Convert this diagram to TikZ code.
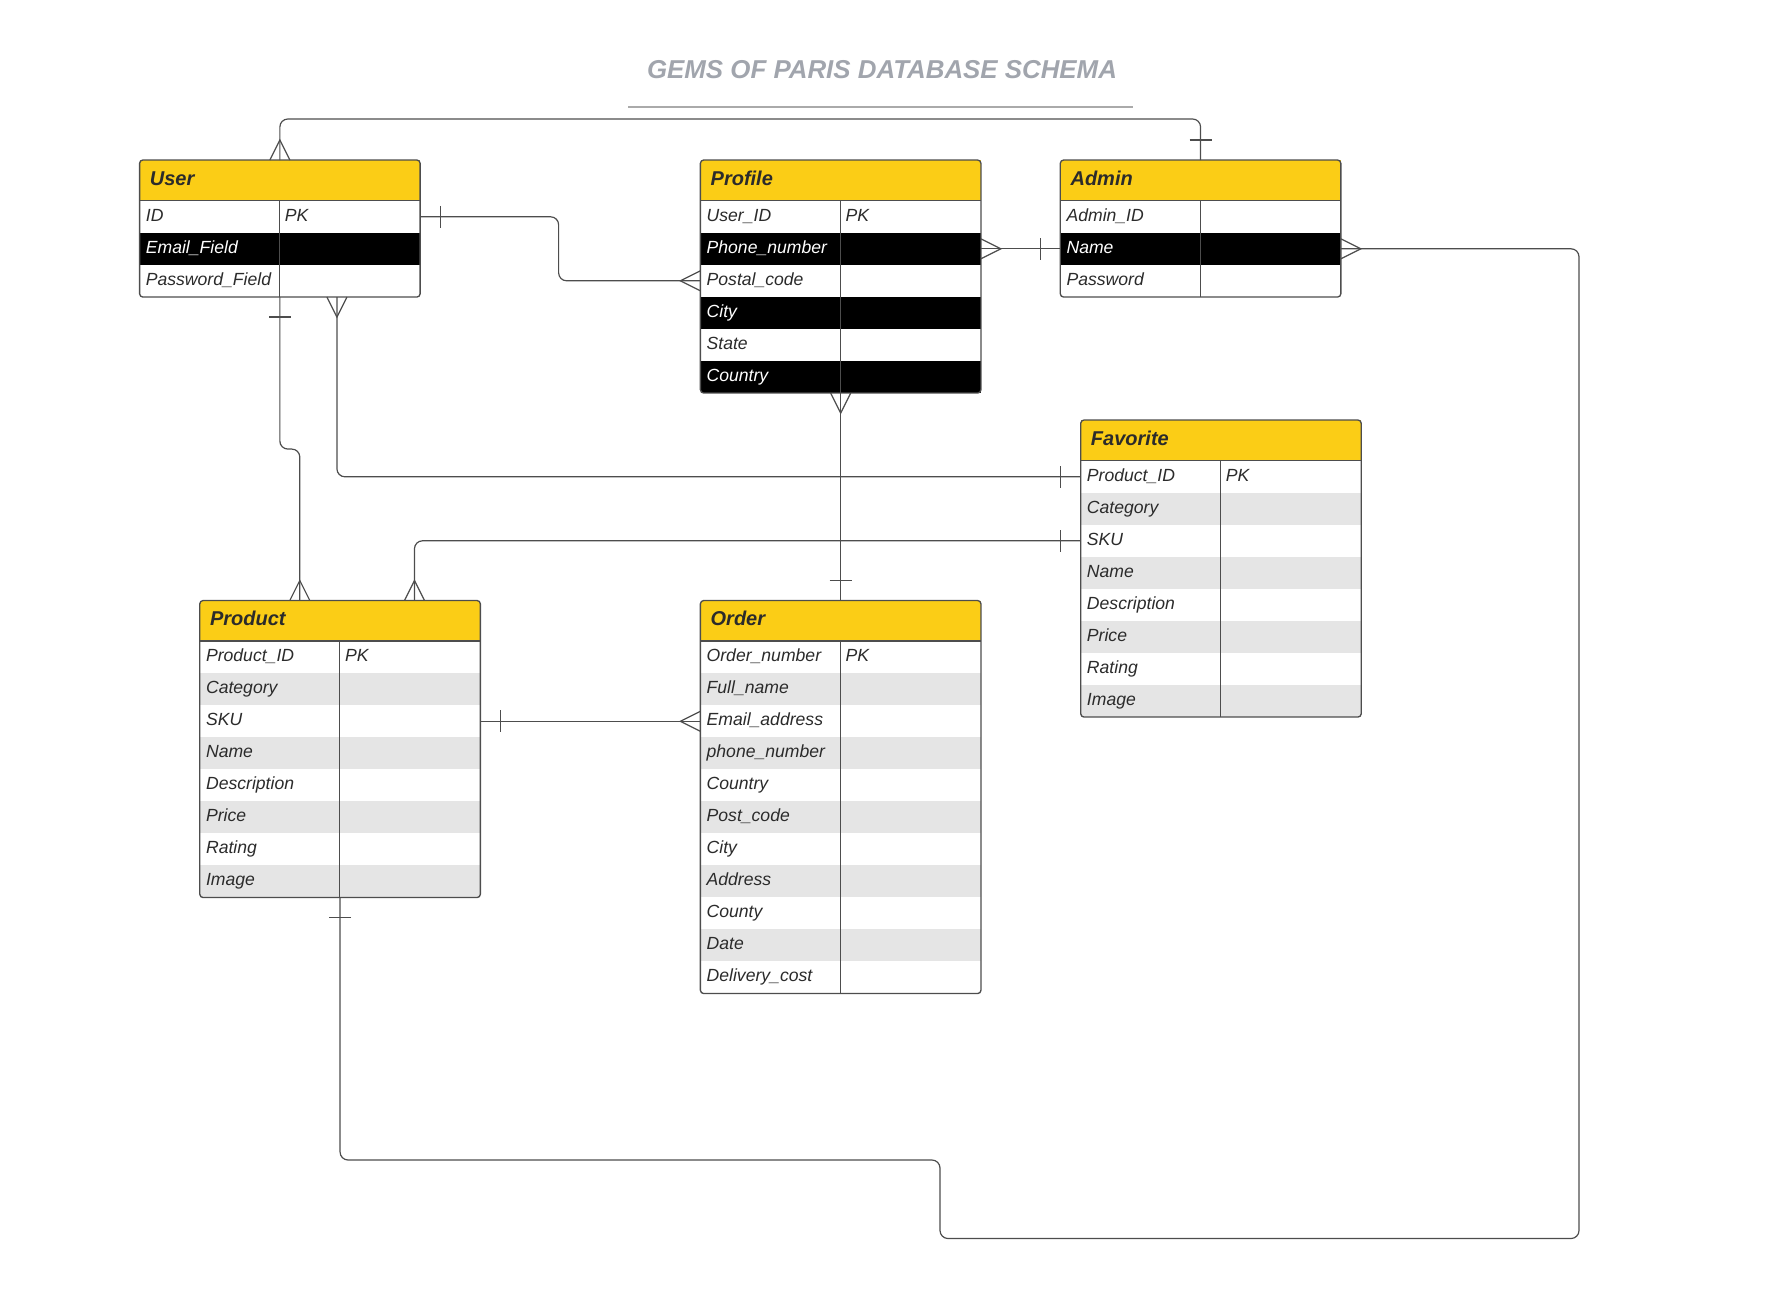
\documentclass[tikz,border=0pt]{standalone}
\usepackage{fontspec}
\setmainfont{Liberation Sans}
\definecolor{gold}{RGB}{251,205,22}
\definecolor{stripe}{RGB}{229,229,229}
\definecolor{ink}{RGB}{43,43,43}
\definecolor{wire}{RGB}{77,77,77}
\definecolor{haze}{RGB}{161,165,173}
\definecolor{rulegrey}{RGB}{170,170,170}
\begin{document}
\begin{tikzpicture}
	[x=0.75pt,y=-0.75pt,
	head/.style={anchor=north west,fill=gold,minimum height=30pt,inner xsep=7.5pt,inner ysep=0pt,text width=195pt,align=left,text height=11pt,text depth=3.5pt,text=ink,font=\fontsize{15}{18}\selectfont\bfseries\itshape},
	row/.style={anchor=north west,minimum height=24pt,inner xsep=4.5pt,inner ysep=0pt,text width=201pt,align=left,text height=9.6pt,text depth=3pt,font=\fontsize{13.2}{16}\selectfont\itshape},
	frame/.style={draw=wire,line width=1pt,rounded corners=2.5pt},
	link/.style={draw=wire,line width=0.9pt},
	elbow/.style={link,rounded corners=6pt},
	crow/.pic={\draw[link] (0,-10) -- (20,0) -- (0,10);},
	bar/.pic={\draw[link] (20,-11) -- (20,11);}]
	\useasboundingbox (0,0) rectangle (1780,1303);
	\node[font=\fontsize{19.4}{23}\selectfont\bfseries\itshape,text=haze] (title) at (882,70) {GEMS OF PARIS DATABASE SCHEMA};
	\draw[rulegrey,line width=1.5pt] (628,106.7) -- (1133,106.7);

	\node[head] (user) at (139.6,160) {User};
	\foreach \f [count=\i] in {ID,Email\_Field,Password\_Field}{
		\ifodd\i\def\bg{white}\def\fg{ink}\else\def\bg{black}\def\fg{white}\fi
		\node[row,fill=\bg,text=\fg] (user-\i) at ([yshift=-(\i-1)*24pt]user.south west) {\makebox[104.25pt][l]{\f}\ifnum\i=1 PK\fi};
	}
	\draw[frame] (user.north west) rectangle (user-3.south east);
	\draw[link] (user.south west) -- (user.south east);
	\draw[link] ([xshift=105pt]user.south west) -- ([xshift=105pt]user-3.south west);

	\node[head] (profile) at (700.4,160) {Profile};
	\foreach \f [count=\i] in {User\_ID,Phone\_number,Postal\_code,City,State,Country}{
		\ifodd\i\def\bg{white}\def\fg{ink}\else\def\bg{black}\def\fg{white}\fi
		\node[row,fill=\bg,text=\fg] (profile-\i) at ([yshift=-(\i-1)*24pt]profile.south west) {\makebox[104.25pt][l]{\f}\ifnum\i=1 PK\fi};
	}
	\draw[frame] (profile.north west) rectangle (profile-6.south east);
	\draw[link] (profile.south west) -- (profile.south east);
	\draw[link] ([xshift=105pt]profile.south west) -- ([xshift=105pt]profile-6.south west);

	\node[head] (admin) at (1060.3,160) {Admin};
	\foreach \f [count=\i] in {Admin\_ID,Name,Password}{
		\ifodd\i\def\bg{white}\def\fg{ink}\else\def\bg{black}\def\fg{white}\fi
		\node[row,fill=\bg,text=\fg] (admin-\i) at ([yshift=-(\i-1)*24pt]admin.south west) {\f};
	}
	\draw[frame] (admin.north west) rectangle (admin-3.south east);
	\draw[link] (admin.south west) -- (admin.south east);
	\draw[link] ([xshift=105pt]admin.south west) -- ([xshift=105pt]admin-3.south west);

	\node[head] (favorite) at (1080.7,420) {Favorite};
	\foreach \f [count=\i] in {Product\_ID,Category,SKU,Name,Description,Price,Rating,Image}{
		\ifodd\i\def\bg{white}\else\def\bg{stripe}\fi
		\node[row,fill=\bg,text=ink] (favorite-\i) at ([yshift=-(\i-1)*24pt]favorite.south west) {\makebox[104.25pt][l]{\f}\ifnum\i=1 PK\fi};
	}
	\draw[frame] (favorite.north west) rectangle (favorite-8.south east);
	\draw[link] (favorite.south west) -- (favorite.south east);
	\draw[link] ([xshift=105pt]favorite.south west) -- ([xshift=105pt]favorite-8.south west);

	\node[head] (product) at (199.8,600.5) {Product};
	\foreach \f [count=\i] in {Product\_ID,Category,SKU,Name,Description,Price,Rating,Image}{
		\ifodd\i\def\bg{white}\else\def\bg{stripe}\fi
		\node[row,fill=\bg,text=ink] (product-\i) at ([yshift=-(\i-1)*24pt]product.south west) {\makebox[104.25pt][l]{\f}\ifnum\i=1 PK\fi};
	}
	\draw[frame] (product.north west) rectangle (product-8.south east);
	\draw[link] (product.south west) -- (product.south east);
	\draw[link] ([xshift=105pt]product.south west) -- ([xshift=105pt]product-8.south west);

	\node[head] (order) at (700.4,600.5) {Order};
	\foreach \f [count=\i] in {Order\_number,Full\_name,Email\_address,phone\_number,Country,Post\_code,City,Address,County,Date,Delivery\_cost}{
		\ifodd\i\def\bg{white}\else\def\bg{stripe}\fi
		\node[row,fill=\bg,text=ink] (order-\i) at ([yshift=-(\i-1)*24pt]order.south west) {\makebox[104.25pt][l]{\f}\ifnum\i=1 PK\fi};
	}
	\draw[frame] (order.north west) rectangle (order-11.south east);
	\draw[link] (order.south west) -- (order.south east);
	\draw[link] ([xshift=105pt]order.south west) -- ([xshift=105pt]order-11.south west);

	\draw[elbow] (user.north) -- ++(0,-41) -| (admin.north);
	\pic[rotate=90] at (user.north) {crow};
	\pic[rotate=90] at (admin.north) {bar};

	\draw[elbow] (user-1.east) -- ++(138.5,0) |- (profile-3.west);
	\pic at (user-1.east) {bar};
	\pic[rotate=180] at (profile-3.west) {crow};

	\draw[link] (profile-2.east) -- (admin-2.west);
	\pic at (profile-2.east) {crow};
	\pic[rotate=180] at (admin-2.west) {bar};

	\draw[elbow] (admin-2.east) -| (1579,1238.5) -| (940,1160) -| (product-8.south);
	\pic at (admin-2.east) {crow};
	\pic[rotate=-90] at (product-8.south) {bar};

	\draw[elbow] (user-3.south) -- ++(0,152) -| ([xshift=75pt]product.north west);
	\pic[rotate=-90] at (user-3.south) {bar};
	\pic[rotate=90] at ([xshift=75pt]product.north west) {crow};

	\draw[elbow] ([xshift=148pt]user-3.south west) |- (favorite-1.west);
	\pic[rotate=-90] at ([xshift=148pt]user-3.south west) {crow};
	\pic[rotate=180] at (favorite-1.west) {bar};

	\draw[elbow] (favorite-3.west) -| ([xshift=161pt]product.north west);
	\pic[rotate=180] at (favorite-3.west) {bar};
	\pic[rotate=90] at ([xshift=161pt]product.north west) {crow};

	\draw[link] (profile-6.south) -- (order.north);
	\pic[rotate=-90] at (profile-6.south) {crow};
	\pic[rotate=90] at (order.north) {bar};

	\draw[link] (product-3.east) -- (order-3.west);
	\pic at (product-3.east) {bar};
	\pic[rotate=180] at (order-3.west) {crow};
\end{tikzpicture}
\end{document}
